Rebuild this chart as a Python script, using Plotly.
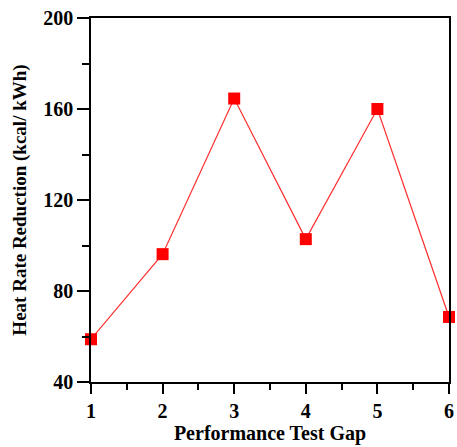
import plotly.graph_objects as go

gap = [1, 2, 3, 4, 5, 6]
heat_rate_reduction = [58.8, 96.2, 164.6, 102.8, 160.0, 68.6]

FONT = "Liberation Serif"

fig = go.Figure()
fig.add_trace(go.Scatter(
    x=gap, y=heat_rate_reduction,
    mode="lines+markers",
    line=dict(color="#ff3030", width=1.2),
    marker=dict(symbol="square", size=12, color="#ff0000"),
    cliponaxis=False,
    showlegend=False,
))

fig.update_layout(
    width=457, height=447,
    margin=dict(l=91, r=3, t=18, b=65),
    plot_bgcolor="white", paper_bgcolor="white",
    font=dict(family=FONT, color="black"),
)
fig.update_xaxes(
    range=[1, 6], tickvals=[1, 2, 3, 4, 5, 6],
    showgrid=False, zeroline=False,
    showline=True, linecolor="black", linewidth=1.5, mirror=True,
    ticks="outside", ticklen=10, tickwidth=1.5, tickcolor="black",
    minor=dict(tickvals=[1.5, 2.5, 3.5, 4.5, 5.5], ticks="outside", ticklen=6, tickwidth=1.5, tickcolor="black"),
    tickfont=dict(family=FONT, size=20, color="black", weight="bold"),
    title=dict(text="Performance Test Gap", font=dict(family=FONT, size=20, color="black", weight="bold"), standoff=2),
)
fig.update_yaxes(
    range=[40, 200], tickvals=[40, 80, 120, 160, 200],
    showgrid=False, zeroline=False,
    showline=True, linecolor="black", linewidth=1.5, mirror=True,
    ticks="outside", ticklen=12, tickwidth=1.5, tickcolor="black",
    minor=dict(tickvals=[60, 100, 140, 180], ticks="outside", ticklen=7, tickwidth=1.5, tickcolor="black"),
    tickfont=dict(family=FONT, size=20, color="black", weight="bold"),
    title=dict(text="Heat Rate Reduction (kcal/ kWh)", font=dict(family=FONT, size=19, color="black", weight="bold"), standoff=12),
)

fig.write_html("out.html")
